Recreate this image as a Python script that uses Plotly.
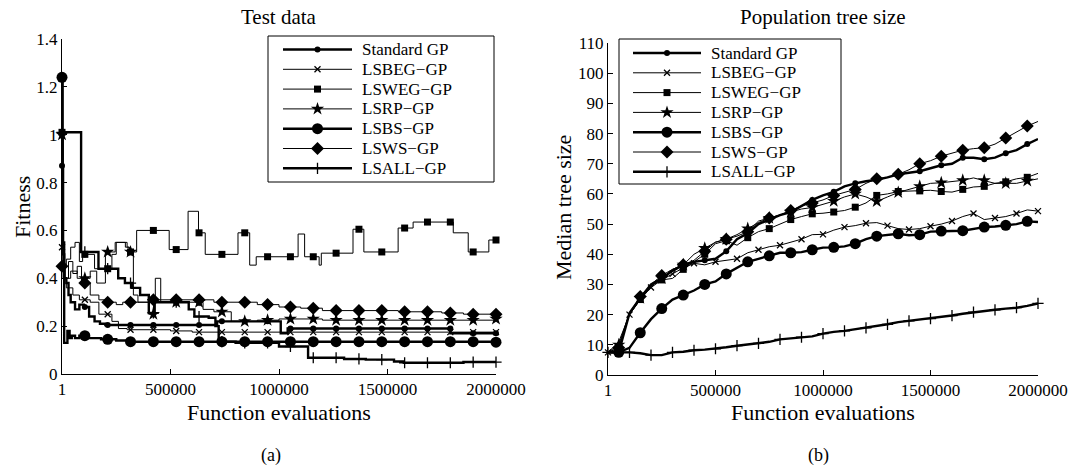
import numpy as np
import plotly.graph_objects as go

W, H = 1072, 470
FONT = "Liberation Serif"

SERIES = ["Standard GP", "LSBEG\u2212GP", "LSWEG\u2212GP", "LSRP\u2212GP",
          "LSBS\u2212GP", "LSWS\u2212GP", "LSALL\u2212GP"]

# ---------------- (a) Test data: best fitness, step curves ----------------
std_x = [1, 5e3, 10e3, 20e3, 30e3, 40e3, 60e3, 80e3, 100e3, 125e3, 150e3, 175e3,
         200e3, 715e3, 1008e3, 1040e3, 1790e3, 2000e3]
std_y = [0.87, 0.55, 0.40, 0.38, 0.33, 0.30, 0.27, 0.29, 0.28, 0.24, 0.22, 0.21,
         0.205, 0.22, 0.17, 0.19, 0.17, 0.17]

lsbeg_x = [1, 5e3, 20e3, 50e3, 80e3, 130e3, 170e3, 230e3, 260e3, 300e3, 500e3,
           600e3, 2000e3]
lsbeg_y = [0.53, 0.40, 0.36, 0.33, 0.31, 0.30, 0.25, 0.22, 0.19, 0.185, 0.18,
           0.175, 0.175]

lsweg_x = [1, 5e3, 20e3, 40e3, 60e3, 80e3, 95e3, 150e3, 230e3, 250e3, 300e3,
           310e3, 344e3, 494e3, 581e3, 629e3, 660e3, 811e3, 865e3, 895e3,
           1088e3, 1118e3, 1185e3, 1195e3, 1341e3, 1391e3, 1549e3, 1618e3,
           1803e3, 1872e3, 1967e3, 2000e3]
lsweg_y = [1.01, 0.45, 0.48, 0.53, 0.55, 0.47, 0.50, 0.44, 0.50, 0.55, 0.53,
           0.51, 0.60, 0.52, 0.68, 0.59, 0.50, 0.59, 0.455, 0.49,
           0.585, 0.49, 0.455, 0.505, 0.605, 0.51, 0.61, 0.635,
           0.59, 0.51, 0.56, 0.56]

lsrp_x = [1, 5e3, 15e3, 30e3, 50e3, 70e3, 90e3, 130e3, 160e3, 200e3, 245e3,
          292e3, 310e3, 329e3, 350e3, 400e3, 430e3, 455e3, 500e3, 650e3, 700e3,
          780e3, 900e3, 1000e3, 1200e3, 2000e3]
lsrp_y = [1.0, 0.45, 0.40, 0.47, 0.42, 0.45, 0.40, 0.43, 0.38, 0.51, 0.55,
          0.53, 0.51, 0.33, 0.30, 0.25, 0.40, 0.30, 0.30, 0.27, 0.26,
          0.22, 0.225, 0.23, 0.225, 0.23]

lsbs_x = [1, 3e3, 10e3, 25e3, 35e3, 45e3, 60e3, 80e3, 120e3, 180e3, 250e3,
          300e3, 2000e3]
lsbs_y = [1.24, 0.50, 0.13, 0.18, 0.15, 0.16, 0.15, 0.16, 0.15, 0.145, 0.14,
          0.135, 0.133]

lsws_x = [1, 10e3, 40e3, 70e3, 90e3, 130e3, 170e3, 200e3, 250e3, 280e3, 400e3,
          700e3, 900e3, 1000e3, 1100e3, 1200e3, 1550e3, 1750e3, 1850e3, 2000e3]
lsws_y = [0.45, 0.40, 0.43, 0.40, 0.38, 0.33, 0.31, 0.30, 0.29, 0.30, 0.31,
          0.30, 0.29, 0.28, 0.275, 0.265, 0.26, 0.255, 0.25, 0.25]

lsall_x = [1, 88e3, 168e3, 259e3, 290e3, 323e3, 360e3, 400e3, 425e3, 584e3,
           610e3, 676e3, 707e3, 722e3, 800e3, 1000e3, 1134e3, 1300e3, 1400e3,
           1530e3, 1575e3, 1850e3, 2000e3]
lsall_y = [1.01, 0.51, 0.44, 0.40, 0.38, 0.36, 0.33, 0.255, 0.30, 0.27,
           0.24, 0.235, 0.20, 0.135, 0.13, 0.115, 0.068, 0.063, 0.06,
           0.052, 0.047, 0.05, 0.05]

fit_x = [std_x, lsbeg_x, lsweg_x, lsrp_x, lsbs_x, lsws_x, lsall_x]
fit_y = [std_y, lsbeg_y, lsweg_y, lsrp_y, lsbs_y, lsws_y, lsall_y]

# ---------------- (b) Median tree size, sampled every 50000 evaluations ----
size_x = [1] + list(np.arange(50000, 2000001, 50000))

std_s = [7.5, 7.5, 20.5, 25.5, 30, 32, 34.5, 36.5, 37.5, 38, 38.5, 41, 45, 47,
         50, 51.5, 53, 54, 56, 58, 59.5, 60.7, 62.5, 63.5, 64.2, 64.7, 65.5,
         66.5, 67, 67.5, 68.5, 69.5, 70, 72, 72, 71.5, 72, 73.5, 74.5, 76.5, 78.2]
lsbeg_s = [7.5, 11, 20, 25, 29, 31.5, 33.5, 35.5, 37, 36.5, 37.5, 38, 38.5,
           40.5, 41.5, 42.5, 43, 44, 45, 46.5, 46.6, 48, 49, 49.5, 50.3, 50.5,
           49.5, 48.5, 48.2, 48.5, 49.3, 50, 51, 52.5, 53.5, 51.5, 52, 52.5,
           53.5, 54.7, 54.3]
lsweg_s = [7.5, 9, 20, 25, 29.5, 31.5, 32, 35, 37.5, 40, 43.5, 44.5, 43, 45.5,
           47.5, 48.5, 50, 51.5, 52.5, 53.4, 53.6, 54, 54.5, 55.6, 57, 59.5, 60,
           60.8, 61, 61, 61.2, 60.8, 60.6, 61.5, 62.3, 62.5, 63.5, 64, 65, 65.5,
           66.8]
lsrp_s = [7.5, 10, 20.5, 25.5, 29.5, 32, 35, 36.5, 40, 42, 44, 45, 46.5, 48.5,
          50.5, 52, 53, 54, 55, 55.5, 56.5, 57.6, 59, 60, 59, 57.5, 59, 60.5,
          61.5, 62.5, 63.5, 63.7, 64, 64.5, 65.3, 64.5, 63.5, 63.5, 63.5, 64.3,
          65]
lsbs_s = [7.5, 7.5, 9, 14, 18.5, 22, 25, 26.5, 28, 30, 31, 33.5, 35.5, 37.5,
          38.5, 39.5, 40.5, 40.5, 40.7, 41.5, 42.2, 42.3, 42.6, 43.5, 45, 46,
          46.5, 46.8, 46.3, 46.5, 47.5, 47.7, 47.7, 47.8, 48.5, 49, 49.2, 49.6,
          50, 50.9, 50.7]
lsws_s = [7.5, 9, 20.5, 26, 30, 33, 35, 36.5, 38, 41, 44, 45, 46, 47.5, 51, 52,
          53, 54.5, 56, 57, 58, 59.5, 60.5, 61.5, 63.5, 65, 65.5, 66.5, 68, 70,
          71, 72.5, 73.5, 74.5, 75, 75.3, 76.5, 78.5, 80.5, 82.5, 84]
lsall_s = [7.5, 7.5, 7.5, 7.2, 6.6, 6.6, 7.5, 7.7, 8.2, 8.4, 8.7, 9.2, 9.7,
           10.2, 10.5, 11, 11.8, 12.2, 12.5, 12.8, 13.7, 14.3, 14.6, 15.1, 15.6,
           16.1, 16.8, 17.5, 17.9, 18.3, 18.7, 19.2, 19.7, 20.3, 20.8, 21.3,
           21.6, 22, 22.3, 22.9, 23.7]

size_y = [std_s, lsbeg_s, lsweg_s, lsrp_s, lsbs_s, lsws_s, lsall_s]
# which sample (0 or 1) the every-other-sample markers start from
size_mark_start = [1, 0, 1, 1, 1, 1, 0]

# evaluation counts at which markers are shown on the fitness curves
fit_mark_x = np.linspace(1, 2_000_000, 20)

# ---------------- styling ----------------
THICK, THIN = 2.4, 1.0
STYLE = [
    dict(width=THICK, symbol="circle", size=6),
    dict(width=THIN, symbol="x-thin-open", size=6),
    dict(width=THIN, symbol="square", size=7),
    dict(width=THIN, symbol="star", size=10),
    dict(width=THICK, symbol="circle", size=11),
    dict(width=THIN, symbol="diamond", size=10),
    dict(width=THICK, symbol="cross-thin-open", size=8),
]


def marker_dict(st):
    open_sym = st["symbol"].endswith("open")
    return dict(symbol=st["symbol"], size=st["size"], color="black",
                line=dict(color="black", width=1.3 if open_sym else 0))


def step_lookup(xs, ys, q):
    idx = np.searchsorted(np.asarray(xs, float), q, side="right") - 1
    idx = np.clip(idx, 0, len(ys) - 1)
    return np.asarray(ys, float)[idx]


fig = go.Figure()

for i, name in enumerate(SERIES):
    st = STYLE[i]
    # (a) fitness as step curves
    fig.add_trace(go.Scatter(x=fit_x[i], y=fit_y[i], mode="lines",
                             line=dict(color="black", width=st["width"], shape="hv"),
                             showlegend=False, xaxis="x", yaxis="y",
                             hoverinfo="skip"))
    fig.add_trace(go.Scatter(x=fit_mark_x, y=step_lookup(fit_x[i], fit_y[i], fit_mark_x),
                             mode="markers", marker=marker_dict(st), cliponaxis=False,
                             showlegend=False, xaxis="x", yaxis="y"))
    # (b) tree size
    fig.add_trace(go.Scatter(x=size_x, y=size_y[i], mode="lines",
                             line=dict(color="black", width=st["width"]),
                             showlegend=False, xaxis="x2", yaxis="y2",
                             hoverinfo="skip"))
    s0 = size_mark_start[i]
    fig.add_trace(go.Scatter(x=size_x[s0::2], y=size_y[i][s0::2], mode="markers",
                             marker=marker_dict(st), cliponaxis=False,
                             showlegend=False, xaxis="x2", yaxis="y2"))


def px_x(p):
    return p / W


def px_y(p):
    return 1 - p / H


# ---------------- legends, drawn on a pixel-space overlay ----------------
# box: left, right, top, bottom; sample line start/end; text start; first row; row step
LEGENDS = [
    dict(box=(268, 494, 36, 182), line=(283, 352), text=360, row0=49.5, step=19.8),
    dict(box=(619, 841, 39, 184), line=(633, 701), text=709, row0=53, step=19.8),
]
for lg in LEGENDS:
    x0, x1, y0, y1 = lg["box"]
    fig.add_trace(go.Scatter(x=[x0, x1, x1, x0, x0], y=[y0, y0, y1, y1, y0],
                             mode="lines", fill="toself", fillcolor="white",
                             line=dict(color="black", width=1), showlegend=False,
                             xaxis="x3", yaxis="y3", hoverinfo="skip"))
    lx0, lx1 = lg["line"]
    for i, name in enumerate(SERIES):
        st = STYLE[i]
        ry = lg["row0"] + i * lg["step"]
        fig.add_trace(go.Scatter(x=[lx0, lx1], y=[ry, ry], mode="lines",
                                 line=dict(color="black", width=st["width"]),
                                 showlegend=False, xaxis="x3", yaxis="y3",
                                 hoverinfo="skip"))
        fig.add_trace(go.Scatter(x=[(lx0 + lx1) / 2], y=[ry], mode="markers",
                                 marker=marker_dict(st), showlegend=False,
                                 xaxis="x3", yaxis="y3", hoverinfo="skip"))
        fig.add_annotation(text=name, x=px_x(lg["text"]), y=px_y(ry),
                           xref="paper", yref="paper", xanchor="left",
                           yanchor="middle", showarrow=False,
                           font=dict(family=FONT, size=17, color="black"))

tickfont = dict(family=FONT, size=17, color="black")
xticks = dict(tickvals=[1, 500000, 1000000, 1500000, 2000000],
              ticktext=["1", "500000", "1000000", "1500000", "2000000"])
axis_common = dict(showline=True, linecolor="black", linewidth=1, mirror=False,
                   ticks="inside", ticklen=5, tickcolor="black", tickwidth=1,
                   showgrid=False, zeroline=False, tickfont=tickfont,
                   automargin=False)

L0, L1, LT, LB = 62, 496, 39, 374
R0, R1, RT, RB = 608, 1038, 43, 375

fig.update_layout(
    width=W, height=H, margin=dict(l=0, r=0, t=0, b=0),
    paper_bgcolor="white", plot_bgcolor="rgba(0,0,0,0)",
    font=dict(family=FONT, color="black"),
    showlegend=False,
    xaxis=dict(domain=[px_x(L0), px_x(L1)], range=[1, 2000000], anchor="y",
               **xticks, **axis_common),
    yaxis=dict(domain=[px_y(LB), px_y(LT)], range=[0, 1.4], anchor="x",
               tickvals=[0, 0.2, 0.4, 0.6, 0.8, 1.0, 1.2, 1.4],
               ticktext=["0", "0.2", "0.4", "0.6", "0.8", "1", "1.2", "1.4"],
               **axis_common),
    xaxis2=dict(domain=[px_x(R0), px_x(R1)], range=[1, 2000000], anchor="y2",
                **xticks, **axis_common),
    yaxis2=dict(domain=[px_y(RB), px_y(RT)], range=[0, 110], anchor="x2",
                tickvals=list(range(0, 111, 10)), **axis_common),
    xaxis3=dict(domain=[0, 1], range=[0, W], anchor="y3", visible=False,
                fixedrange=True, automargin=False),
    yaxis3=dict(domain=[0, 1], range=[H, 0], anchor="x3", visible=False,
                fixedrange=True, automargin=False),
)

texts = [
    ("Test data", 279, 17, 21, 0),
    ("Population tree size", 823, 17, 21, 0),
    ("Function evaluations", 279, 412, 22, 0),
    ("Function evaluations", 823, 412, 22, 0),
    ("Fitness", 22, 207, 22, -90),
    ("Median tree size", 563, 208, 22, -90),
    ("(a)", 271, 455, 18, 0),
    ("(b)", 818, 455, 18, 0),
]
for txt, x, y, size, ang in texts:
    fig.add_annotation(text=txt, x=px_x(x), y=px_y(y), xref="paper", yref="paper",
                       xanchor="center", yanchor="middle", showarrow=False,
                       textangle=ang, font=dict(family=FONT, size=size, color="black"))

fig.write_html("out.html", config={"displayModeBar": False})
